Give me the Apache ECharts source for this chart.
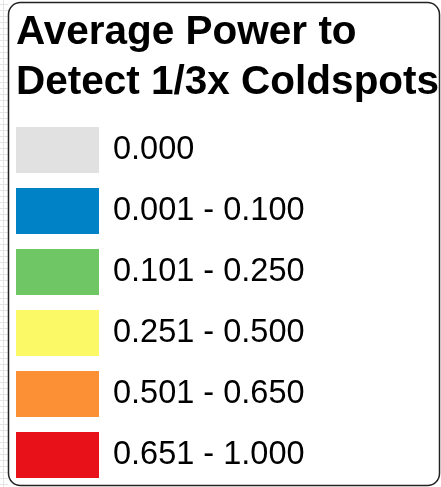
<!DOCTYPE html>
<html>
<head>
<meta charset="utf-8">
<script src="https://cdn.jsdelivr.net/npm/echarts@6/dist/echarts.min.js"></script>
<style>
  html, body { margin: 0; padding: 0; background: #fff; }
</style>
</head>
<body>
<div id="main" style="width: 441px;height:487px;"></div>
<script>
// legend classes
const titleLines = ['Average Power to', 'Detect 1/3x Coldspots']
const classLabels = ['0.000', '0.001 - 0.100', '0.101 - 0.250', '0.251 - 0.500', '0.501 - 0.650', '0.651 - 1.000']
const classMin = [0, 0.001, 0.101, 0.251, 0.501, 0.651]
const classMax = [0, 0.100, 0.250, 0.500, 0.650, 1.000]
const classColors = ['#e1e1e1', '#0083c6', '#6fc664', '#fbf966', '#fb9134', '#e8111a']

const chart = echarts.init(document.getElementById('main'))

const pieces = classLabels.map((label, i) => ({
  gte: classMin[i],
  lte: classMax[i],
  label: label,
  color: classColors[i]
}))

// faint map grid peeking out on the left
const gridLines = []
for (let y = 4; y < 487; y += 6) {
  gridLines.push({ type: 'line', shape: { x1: 0, y1: y + 0.5, x2: 8, y2: y + 0.5 }, style: { stroke: '#e4e4e4', lineWidth: 1 }, z: -2 })
}
gridLines.push({ type: 'line', shape: { x1: 3.5, y1: 0, x2: 3.5, y2: 487 }, style: { stroke: '#e4e4e4', lineWidth: 1 }, z: -2 })

const option = {
  backgroundColor: '#fff',
  title: {
    text: titleLines.join('\n'),
    left: 16,
    top: 8,
    padding: 0,
    textStyle: {
      fontFamily: 'Liberation Sans, Arial, sans-serif',
      fontSize: 40.5,
      fontWeight: 'bold',
      lineHeight: 50,
      color: '#000'
    }
  },
  visualMap: {
    type: 'piecewise',
    orient: 'vertical',
    inverse: true,
    left: 16,
    top: 127,
    padding: 0,
    itemWidth: 83,
    itemHeight: 46,
    itemGap: 15,
    itemSymbol: 'rect',
    textGap: 14,
    align: 'left',
    selectedMode: false,
    pieces: pieces,
    textStyle: {
      fontFamily: 'Liberation Sans, Arial, sans-serif',
      fontSize: 32.5,
      color: '#000',
      padding: [5, 0, 0, 0]
    }
  },
  graphic: [
    {
      type: 'rect',
      shape: { x: 8.5, y: 2.5, width: 431, height: 483, r: 12 },
      style: { fill: '#fff', stroke: '#222', lineWidth: 1.5 },
      z: -1
    }
  ].concat(gridLines),
  series: [
    {
      type: 'pie',
      data: [],
      showEmptyCircle: false,
      silent: true
    }
  ]
}

chart.setOption(option)
</script>
</body>
</html>
